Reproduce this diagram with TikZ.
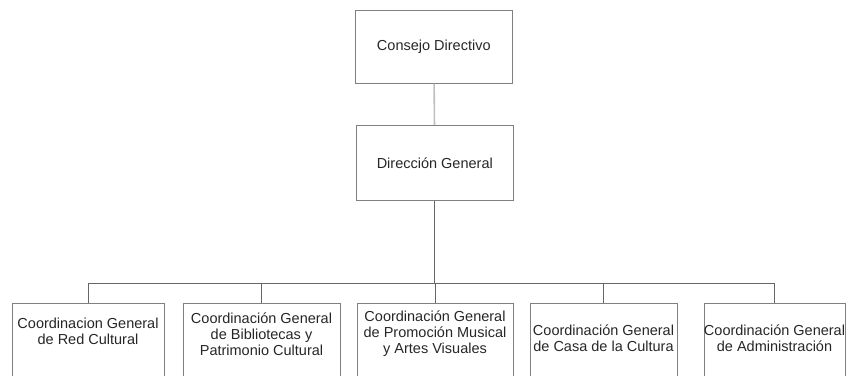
\documentclass[tikz,border=0pt]{standalone}
\usepackage{fontspec}
\setmainfont{Liberation Sans}
\usetikzlibrary{positioning,calc}

\begin{document}
\begin{tikzpicture}[x=1pt,y=-1pt,
    box/.style={draw=black!50, line width=0.6pt, anchor=north west, inner sep=0pt},
    txt/.style={align=center, text=black!85, font=\fontsize{14.5}{16}\selectfont, inner sep=0pt},
    link/.style={draw=black!60, line width=0.7pt},
    feed/.style={draw=black!25, line width=1.6pt}]
    \useasboundingbox (0,0) rectangle (862,375);
    \clip (0,0) rectangle (862,375);

    % Top boxes
    \node [box, txt, minimum width=157pt, minimum height=73pt] (consejo) at (355,10) {Consejo Directivo};
    \node [box, txt, minimum width=157pt, minimum height=75pt] (direccion) at (356,125) {Dirección General};

    % Coordinaciones
    \foreach \n/\x/\w/\ty/\lbl in {
        red/12/152/331/{Coordinacion General\\de Red Cultural},
        bib/183/157/334/{Coordinación General\\de Bibliotecas y\\Patrimonio Cultural},
        pro/357/156/334/{Coordinación General\\de Promoción Musical\\y Artes Visuales},
        casa/530/147/338/{Coordinación General\\de Casa de la Cultura},
        adm/704/141/338/{Coordinación General\\de Administración}}{
        \node [box, minimum width=\w pt, minimum height=100pt] (\n) at (\x,303) {};
        \node [txt] (\n txt) at (\x+\w/2,\ty) {\lbl};
    }

    % Lines
    \coordinate (bus) at (433,283);
    \draw [feed] (consejo) -- (direccion);
    \draw [link] (direccion.south) -- (direccion.south |- bus);
    \draw [link] (bus -| red.north) -- (bus -| adm.north);
    \foreach \n in {red,bib,pro,casa,adm}
        \draw [link] (bus -| \n.north) -- (\n.north);
\end{tikzpicture}
\end{document}
